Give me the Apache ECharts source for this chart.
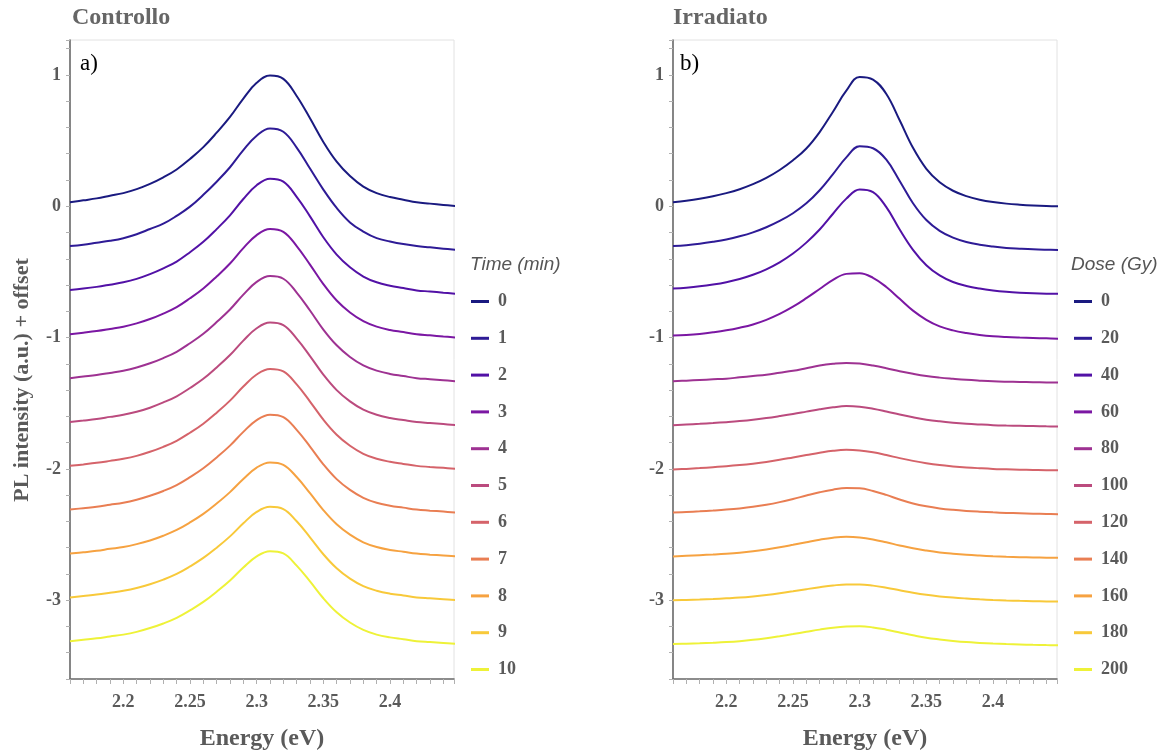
<!DOCTYPE html>
<html>
<head>
<meta charset="utf-8">
<script src="https://cdn.jsdelivr.net/npm/echarts@6/dist/echarts.min.js"></script>
<style>
  html, body { margin: 0; padding: 0; background: #fff; }
  #chart { width: 1171px; height: 756px; }
</style>
</head>
<body>
<div id="chart"></div>
<script>
// Photon energy grid (eV) shared by every spectrum
const energy = [2.16, 2.17, 2.18, 2.19, 2.20, 2.21, 2.22, 2.23, 2.24, 2.25,
                2.26, 2.27, 2.28, 2.29, 2.30, 2.31, 2.32, 2.33, 2.34, 2.35,
                2.36, 2.37, 2.38, 2.39, 2.40, 2.41, 2.42, 2.43, 2.44, 2.45];

// Vertical offset applied to the n-th spectrum of each stack
const offsets = [0, -0.333, -0.667, -1.0, -1.333, -1.667, -2.0, -2.333, -2.667, -3.0, -3.333];

// Legend entries
const timeLabels = ['0', '1', '2', '3', '4', '5', '6', '7', '8', '9', '10'];
const doseLabels = ['0', '20', '40', '60', '80', '100', '120', '140', '160', '180', '200'];

// Colour ramp (dark blue -> yellow)
const palette = ['#1a1a80', '#2e1b96', '#5211a6', '#7b17a3', '#9e3292', '#bb4b7e',
                 '#d5636a', '#e97e53', '#f6a241', '#f8c93a', '#eef238'];

// Controllo: PL spectra vs exposure time (normalised intensity)
const ctrlMin0  = [0.03, 0.045, 0.06, 0.08, 0.10, 0.13, 0.17, 0.22, 0.28, 0.36, 0.45, 0.56, 0.68, 0.82, 0.94, 0.995, 0.97, 0.84, 0.67, 0.49, 0.34, 0.23, 0.15, 0.10, 0.07, 0.05, 0.03, 0.02, 0.01, 0.00];
const ctrlMin1  = [0.03, 0.04, 0.055, 0.07, 0.09, 0.12, 0.16, 0.20, 0.26, 0.33, 0.42, 0.52, 0.63, 0.76, 0.87, 0.925, 0.90, 0.78, 0.62, 0.46, 0.32, 0.21, 0.14, 0.09, 0.065, 0.045, 0.03, 0.02, 0.01, 0.00];
const ctrlMin2  = [0.03, 0.04, 0.053, 0.07, 0.088, 0.114, 0.15, 0.194, 0.246, 0.317, 0.396, 0.493, 0.598, 0.722, 0.827, 0.876, 0.854, 0.739, 0.59, 0.431, 0.299, 0.202, 0.132, 0.088, 0.062, 0.044, 0.026, 0.018, 0.009, 0.00];
const ctrlMin3  = [0.025, 0.037, 0.05, 0.066, 0.083, 0.108, 0.141, 0.183, 0.232, 0.299, 0.374, 0.465, 0.564, 0.681, 0.78, 0.826, 0.805, 0.697, 0.556, 0.407, 0.282, 0.191, 0.125, 0.083, 0.058, 0.042, 0.025, 0.017, 0.008, 0.00];
const ctrlMin4  = [0.024, 0.036, 0.048, 0.064, 0.081, 0.105, 0.137, 0.177, 0.225, 0.29, 0.362, 0.451, 0.547, 0.66, 0.757, 0.801, 0.781, 0.676, 0.539, 0.394, 0.274, 0.185, 0.121, 0.081, 0.056, 0.04, 0.024, 0.016, 0.008, 0.00];
const ctrlMin5  = [0.024, 0.035, 0.047, 0.063, 0.079, 0.102, 0.133, 0.173, 0.22, 0.283, 0.353, 0.44, 0.534, 0.644, 0.738, 0.781, 0.761, 0.659, 0.526, 0.385, 0.267, 0.181, 0.118, 0.079, 0.055, 0.039, 0.024, 0.016, 0.008, 0.00];
const ctrlMin6  = [0.023, 0.034, 0.046, 0.061, 0.077, 0.099, 0.13, 0.168, 0.214, 0.275, 0.344, 0.428, 0.52, 0.627, 0.719, 0.761, 0.742, 0.643, 0.513, 0.375, 0.26, 0.176, 0.115, 0.077, 0.054, 0.038, 0.023, 0.015, 0.008, 0.00];
const ctrlMin7  = [0.023, 0.034, 0.045, 0.06, 0.075, 0.098, 0.128, 0.165, 0.21, 0.27, 0.338, 0.42, 0.51, 0.615, 0.705, 0.746, 0.728, 0.63, 0.503, 0.368, 0.255, 0.173, 0.113, 0.075, 0.053, 0.038, 0.023, 0.015, 0.008, 0.00];
const ctrlMin8  = [0.022, 0.032, 0.043, 0.058, 0.072, 0.094, 0.122, 0.158, 0.202, 0.259, 0.324, 0.403, 0.49, 0.59, 0.677, 0.716, 0.698, 0.605, 0.482, 0.353, 0.245, 0.166, 0.108, 0.072, 0.05, 0.036, 0.022, 0.014, 0.007, 0.00];
const ctrlMin9  = [0.021, 0.032, 0.043, 0.057, 0.072, 0.093, 0.122, 0.157, 0.20, 0.257, 0.322, 0.40, 0.486, 0.586, 0.672, 0.711, 0.694, 0.601, 0.479, 0.35, 0.243, 0.164, 0.107, 0.072, 0.05, 0.036, 0.021, 0.014, 0.007, 0.00];
const ctrlMin10 = [0.021, 0.032, 0.043, 0.057, 0.071, 0.092, 0.121, 0.156, 0.199, 0.256, 0.32, 0.398, 0.483, 0.582, 0.667, 0.706, 0.689, 0.596, 0.476, 0.348, 0.241, 0.163, 0.107, 0.071, 0.05, 0.036, 0.021, 0.014, 0.007, 0.00];

// Irradiato: PL spectra vs absorbed dose (normalised intensity)
const irrGy0   = [0.03, 0.042, 0.057, 0.076, 0.10, 0.13, 0.168, 0.216, 0.276, 0.35, 0.44, 0.565, 0.72, 0.88, 0.985, 0.965, 0.855, 0.655, 0.445, 0.285, 0.182, 0.118, 0.077, 0.05, 0.032, 0.02, 0.012, 0.006, 0.002, 0.00];
const irrGy20  = [0.03, 0.036, 0.047, 0.062, 0.08, 0.104, 0.134, 0.173, 0.221, 0.28, 0.355, 0.455, 0.578, 0.705, 0.79, 0.775, 0.688, 0.526, 0.356, 0.228, 0.146, 0.094, 0.061, 0.04, 0.026, 0.016, 0.01, 0.005, 0.002, 0.00];
const irrGy40  = [0.04, 0.047, 0.057, 0.071, 0.089, 0.113, 0.145, 0.187, 0.24, 0.307, 0.39, 0.49, 0.61, 0.725, 0.795, 0.775, 0.66, 0.49, 0.335, 0.218, 0.14, 0.09, 0.06, 0.04, 0.026, 0.016, 0.009, 0.004, 0.001, 0.00];
const irrGy60  = [0.015, 0.02, 0.028, 0.04, 0.055, 0.075, 0.10, 0.135, 0.18, 0.235, 0.30, 0.37, 0.44, 0.485, 0.49, 0.455, 0.385, 0.295, 0.205, 0.135, 0.085, 0.055, 0.035, 0.02, 0.01, 0.004, 0.00, -0.003, -0.006, -0.01];
const irrGy80  = [0.00, 0.005, 0.01, 0.015, 0.02, 0.03, 0.04, 0.05, 0.065, 0.08, 0.10, 0.12, 0.133, 0.14, 0.135, 0.12, 0.10, 0.077, 0.057, 0.04, 0.028, 0.019, 0.011, 0.005, 0.00, -0.003, -0.005, -0.007, -0.009, -0.01];
const irrGy100 = [0.00, 0.005, 0.01, 0.016, 0.023, 0.031, 0.041, 0.054, 0.069, 0.085, 0.103, 0.121, 0.136, 0.145, 0.14, 0.125, 0.104, 0.081, 0.06, 0.042, 0.029, 0.019, 0.011, 0.005, 0.00, -0.003, -0.005, -0.007, -0.009, -0.01];
const irrGy120 = [-0.005, 0.00, 0.006, 0.013, 0.02, 0.029, 0.04, 0.053, 0.069, 0.087, 0.105, 0.123, 0.138, 0.145, 0.14, 0.126, 0.105, 0.082, 0.061, 0.043, 0.029, 0.019, 0.011, 0.005, 0.00, -0.003, -0.006, -0.008, -0.01, -0.01];
const irrGy140 = [0.00, 0.005, 0.01, 0.016, 0.023, 0.032, 0.044, 0.06, 0.08, 0.104, 0.13, 0.155, 0.175, 0.187, 0.185, 0.165, 0.135, 0.1, 0.07, 0.048, 0.032, 0.021, 0.013, 0.007, 0.002, -0.002, -0.005, -0.008, -0.01, -0.012];
const irrGy160 = [0.00, 0.005, 0.01, 0.015, 0.021, 0.029, 0.04, 0.054, 0.07, 0.089, 0.109, 0.128, 0.143, 0.15, 0.145, 0.13, 0.108, 0.084, 0.062, 0.045, 0.031, 0.021, 0.013, 0.007, 0.002, -0.002, -0.005, -0.007, -0.009, -0.01];
const irrGy180 = [0.00, 0.002, 0.005, 0.009, 0.014, 0.02, 0.029, 0.04, 0.053, 0.068, 0.084, 0.099, 0.112, 0.12, 0.12, 0.111, 0.095, 0.076, 0.057, 0.041, 0.029, 0.02, 0.013, 0.007, 0.002, -0.002, -0.005, -0.007, -0.009, -0.01];
const irrGy200 = [0.00, 0.002, 0.005, 0.009, 0.014, 0.021, 0.031, 0.044, 0.059, 0.075, 0.092, 0.109, 0.124, 0.133, 0.135, 0.126, 0.108, 0.087, 0.066, 0.047, 0.034, 0.023, 0.014, 0.008, 0.003, -0.001, -0.004, -0.007, -0.009, -0.01];

const controlloSpectra = [ctrlMin0, ctrlMin1, ctrlMin2, ctrlMin3, ctrlMin4, ctrlMin5,
                          ctrlMin6, ctrlMin7, ctrlMin8, ctrlMin9, ctrlMin10];
const irradiatoSpectra = [irrGy0, irrGy20, irrGy40, irrGy60, irrGy80, irrGy100,
                          irrGy120, irrGy140, irrGy160, irrGy180, irrGy200];

const SERIF = '"Liberation Serif", "DejaVu Serif", serif';
const SANS = '"Liberation Sans", Arial, sans-serif';
const GREY = '#5a5a5a';

const plotTop = 40, plotHeight = 640, plotWidth = 384;
const panelLeft = [70, 673];

function makeXAxis(gi) {
  return {
    type: 'value', gridIndex: gi, min: 2.16, max: 2.448, interval: 0.01,
    axisLine: { show: true, onZero: false, lineStyle: { color: '#6b6b6b', width: 1.6 } },
    axisTick: { show: true, inside: false, length: 5, lineStyle: { color: '#b0b0b0', width: 1 } },
    splitLine: { show: false },
    axisLabel: {
      margin: 14, color: GREY, fontFamily: SERIF, fontWeight: 'bold', fontSize: 18,
      formatter: v => {
        const k = Math.round(v * 100);
        return (Math.abs(v * 100 - k) < 1e-6 && k % 5 === 0) ? String(k / 100) : '';
      }
    },
    name: 'Energy (eV)', nameLocation: 'middle', nameGap: 48,
    nameTextStyle: { color: GREY, fontFamily: SERIF, fontWeight: 'bold', fontSize: 24 }
  };
}

function makeYAxis(gi) {
  return {
    type: 'value', gridIndex: gi, min: -3.6, max: 1.266, interval: 0.2,
    axisLine: { show: true, onZero: false, lineStyle: { color: '#6b6b6b', width: 1.6 } },
    axisTick: { show: true, inside: false, length: 4, lineStyle: { color: '#b0b0b0', width: 1 } },
    splitLine: { show: false },
    axisLabel: {
      margin: 9, color: GREY, fontFamily: SERIF, fontWeight: 'bold', fontSize: 18,
      formatter: v => {
        const k = Math.round(v);
        return Math.abs(v - k) < 1e-6 ? String(k === 0 ? 0 : k) : '';
      }
    }
  };
}

function buildSeries(spectra, labels, unit, gi) {
  return spectra.map((spec, i) => ({
    name: labels[i] + ' ' + unit,
    type: 'line',
    xAxisIndex: gi, yAxisIndex: gi,
    data: energy.map((e, j) => [e, +(spec[j] + offsets[i]).toFixed(4)]),
    smooth: 0.4,
    showSymbol: false,
    symbol: 'none',
    lineStyle: { color: palette[i], width: 2 },
    itemStyle: { color: palette[i] },
    emphasis: { disabled: true },
    animation: false,
    z: 3
  }));
}

function makeLegend(labels, unit, left) {
  return {
    data: labels.map(l => l + ' ' + unit),
    orient: 'vertical', left: left, top: 287.5,
    icon: 'rect', itemWidth: 18, itemHeight: 3, itemGap: 18.8,
    formatter: n => n.split(' ')[0],
    textStyle: { color: GREY, fontFamily: SERIF, fontWeight: 'bold', fontSize: 18,
                 lineHeight: 17, padding: [0, 0, 0, 4] },
    selectedMode: false
  };
}

const chart = echarts.init(document.getElementById('chart'), null, { renderer: 'canvas' });

chart.setOption({
  backgroundColor: '#ffffff',
  animation: false,
  grid: panelLeft.map(l => ({
    left: l, top: plotTop, width: plotWidth, height: plotHeight,
    show: true, borderColor: '#e2e2e2', borderWidth: 1, backgroundColor: 'transparent',
    containLabel: false
  })),
  xAxis: [makeXAxis(0), makeXAxis(1)],
  yAxis: [makeYAxis(0), makeYAxis(1)],
  legend: [makeLegend(timeLabels, 'min', 466), makeLegend(doseLabels, 'Gy', 1069)],
  series: [
    ...buildSeries(controlloSpectra, timeLabels, 'min', 0),
    ...buildSeries(irradiatoSpectra, doseLabels, 'Gy', 1)
  ],
  graphic: [
    { type: 'text', left: 72, top: 6,
      style: { text: 'Controllo', fill: '#666', font: 'bold 24px ' + SERIF } },
    { type: 'text', left: 673, top: 6,
      style: { text: 'Irradiato', fill: '#666', font: 'bold 24px ' + SERIF } },
    { type: 'text', left: 80, top: 52,
      style: { text: 'a)', fill: '#000', font: '23px ' + SERIF } },
    { type: 'text', left: 680, top: 52,
      style: { text: 'b)', fill: '#000', font: '23px ' + SERIF } },
    { type: 'text', x: 22, y: 380, rotation: Math.PI / 2,
      style: { text: 'PL intensity (a.u.) + offset', fill: GREY, font: 'bold 22px ' + SERIF,
               align: 'center', verticalAlign: 'middle' } },
    { type: 'text', left: 470, top: 255,
      style: { text: 'Time (min)', fill: '#555', font: 'italic 19px ' + SANS } },
    { type: 'text', left: 1071, top: 255,
      style: { text: 'Dose (Gy)', fill: '#555', font: 'italic 19px ' + SANS } }
  ]
});
</script>
</body>
</html>
